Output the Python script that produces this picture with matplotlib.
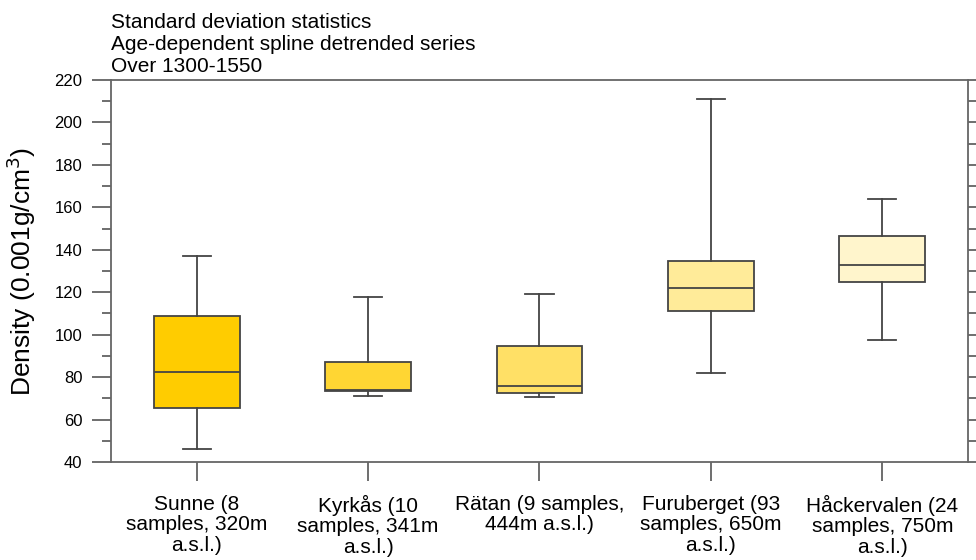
import matplotlib
matplotlib.use('Agg')
import matplotlib.pyplot as plt
from matplotlib.ticker import MultipleLocator

plt.rcParams['font.family'] = ['Liberation Sans', 'DejaVu Sans']

# sites and box statistics
sites = ['Sunne (8\nsamples, 320m\na.s.l.)',
         'Kyrkås (10\nsamples, 341m\na.s.l.)',
         'Rätan (9 samples,\n444m a.s.l.)',
         'Furuberget (93\nsamples, 650m\na.s.l.)',
         'Håckervalen (24\nsamples, 750m\na.s.l.)']
whislo = [46.3, 71.2, 70.6, 82.1, 97.6]
q1 = [65.6, 73.3, 72.4, 111.0, 124.8]
med = [82.6, 73.8, 75.6, 122.0, 133.0]
q3 = [108.9, 87.0, 94.6, 134.9, 146.3]
whishi = [137.2, 117.6, 119.2, 210.9, 163.9]
colors = ['#FFCC00', '#FFD633', '#FFE066', '#FFEB99', '#FFF5CC']

stats = []
for i in range(len(sites)):
    stats.append({'whislo': whislo[i], 'q1': q1[i], 'med': med[i],
                  'q3': q3[i], 'whishi': whishi[i], 'fliers': []})

fig = plt.figure(figsize=(9.76, 5.6), dpi=100)
ax = fig.add_axes([0.1137, 0.175, 0.8781, 0.6822])

edge = '#444444'
bp = ax.bxp(stats, positions=range(1, len(sites) + 1), widths=0.5,
            patch_artist=True, showfliers=False,
            boxprops=dict(edgecolor=edge, linewidth=1.3),
            medianprops=dict(color=edge, linewidth=1.3),
            whiskerprops=dict(color=edge, linewidth=1.3),
            capprops=dict(color=edge, linewidth=1.3),
            capwidths=0.165)
for patch, c in zip(bp['boxes'], colors):
    patch.set_facecolor(c)

ax.set_xlim(0.5, 5.5)
ax.set_ylim(40, 220)
ax.set_xticks(range(1, len(sites) + 1))
ax.set_xticklabels(sites, fontsize=15, linespacing=1.1)
ax.yaxis.set_major_locator(MultipleLocator(20))
ax.yaxis.set_minor_locator(MultipleLocator(10))
ax.tick_params(axis='y', which='both', direction='out', right=True,
               color='#555555', width=1.2, labelsize=12, pad=7)
ax.tick_params(axis='y', which='major', length=13.5)
ax.tick_params(axis='y', which='minor', length=6.5)
ax.tick_params(axis='x', direction='out', length=13.5, color='#555555',
               width=1.2, pad=10)
for s in ax.spines.values():
    s.set_color('#666666')
    s.set_linewidth(1.3)

ax.set_ylabel('Density (0.001g/cm$^3$)', fontsize=19, labelpad=12)
ax.set_title('Standard deviation statistics\nAge-dependent spline detrended series\nOver 1300-1550',
             loc='left', fontsize=15, linespacing=1.2, pad=6)

fig.savefig('out.png', dpi=100)
